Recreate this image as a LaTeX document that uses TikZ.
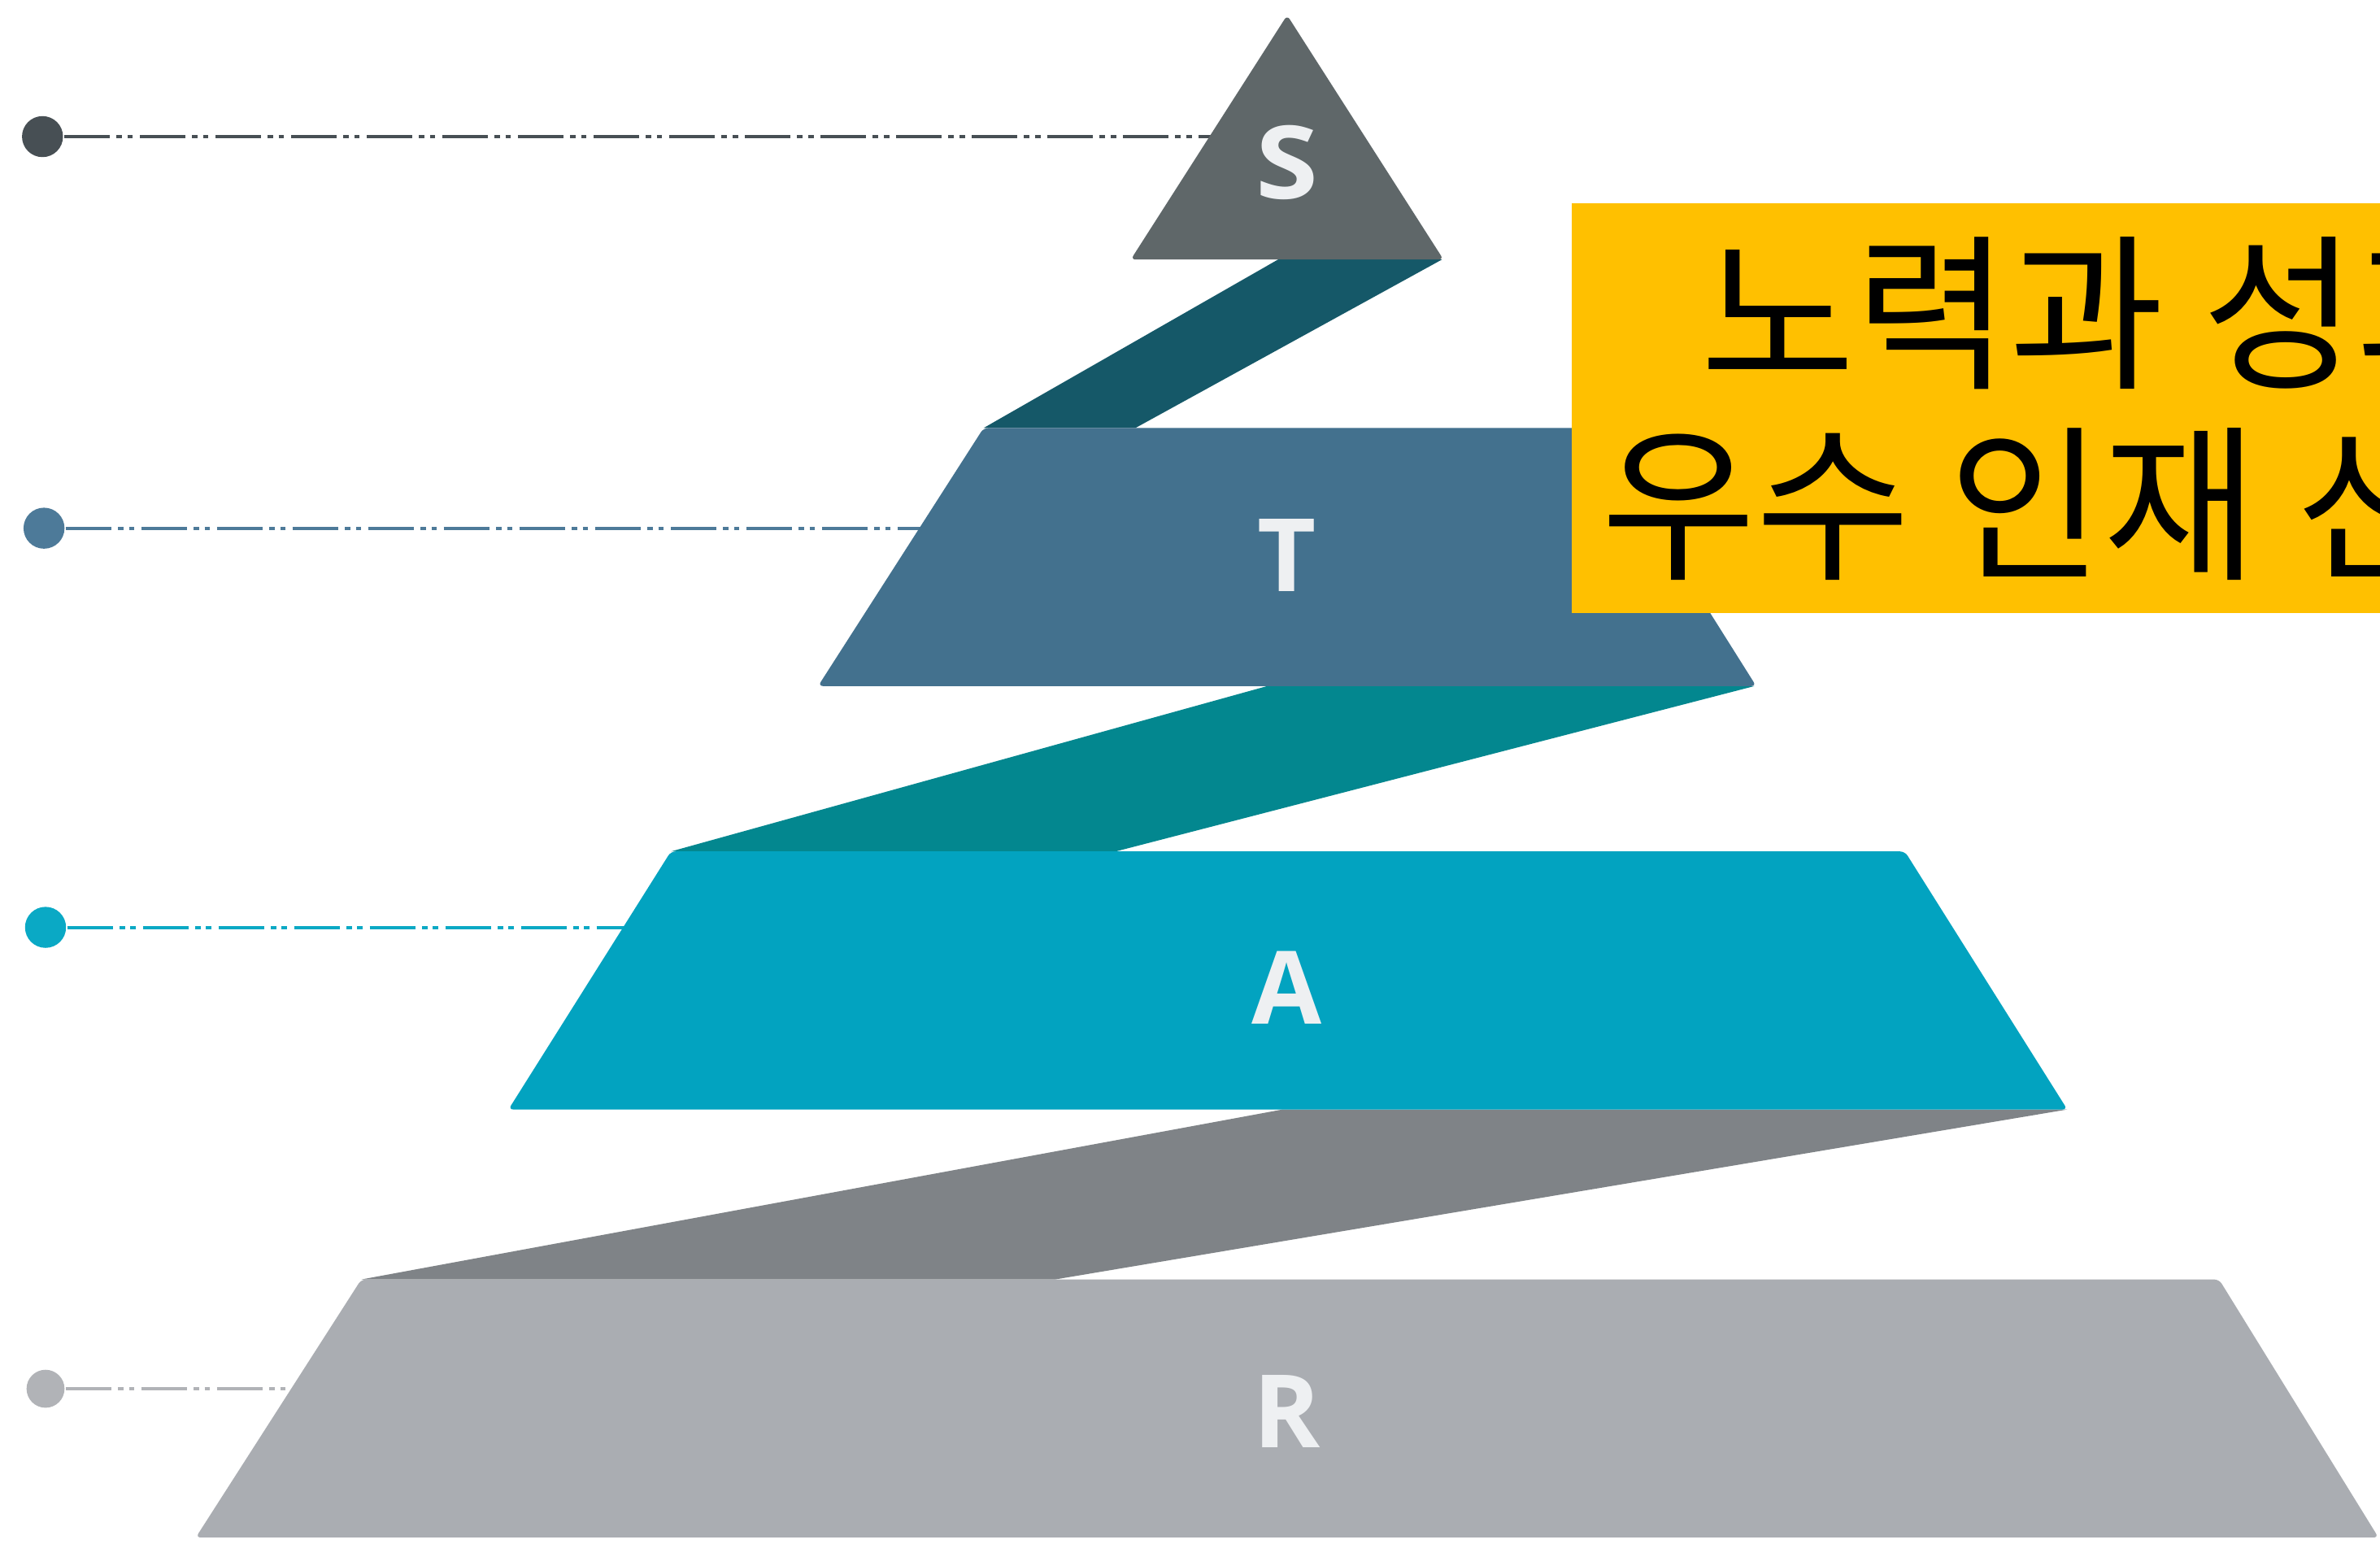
\documentclass[tikz,border=0pt]{standalone}
\usepackage{fontspec}
\newfontfamily\krfont{Noto Sans CJK KR}
\newfontfamily\lblfont{Open Sans}
\definecolor{cSdot}{HTML}{474F54}
\definecolor{cS}{HTML}{5F6769}
\definecolor{cSTband}{HTML}{155868}
\definecolor{cT}{HTML}{43718E}
\definecolor{cTdot}{HTML}{4D7A99}
\definecolor{cTAband}{HTML}{03878F}
\definecolor{cA}{HTML}{02A3C0}
\definecolor{cAdot}{HTML}{0AA9C5}
\definecolor{cARband}{HTML}{7F8387}
\definecolor{cR}{HTML}{AAADB2}
\definecolor{cRdot}{HTML}{B1B3B7}
\definecolor{ybox}{HTML}{FFC000}
\definecolor{lblwhite}{HTML}{EEF0F2}
\begin{document}
\begin{tikzpicture}[x=0.01cm,y=-0.01cm,
  dotn/.style={circle,inner sep=0pt,minimum size=0.27cm,fill=#1},
  leader/.style={draw=#1,line width=0.6pt,dash pattern=on 0.30cm off 0.045cm on 0.036cm off 0.036cm on 0.036cm off 0.045cm},
  tier/.style={fill=#1,rounded corners=0.9pt},
  lbl/.style={text=lblwhite,inner sep=0pt,font=\lblfont\bfseries\fontsize{19}{21}\selectfont},
  kr/.style={font=\krfont\fontsize{31.5}{36}\selectfont,anchor=base west,inner sep=0pt,text=black}]
\useasboundingbox (0,0) rectangle (1568,1017);
\clip (0,0) rectangle (1568,1017);
\fill[white] (0,0) rectangle (1568,1017);
% leader dots and lines
\node[dotn=cSdot] (dS) at (28,90) {};
\node[dotn=cTdot] (dT) at (29,348) {};
\node[dotn=cAdot] (dA) at (30,611) {};
\node[dotn=cRdot,minimum size=0.25cm] (dR) at (30,915) {};
\coordinate (eS) at (830,90);
\coordinate (eT) at (640,348);
\coordinate (eA) at (440,611);
\coordinate (eR) at (230,915);
\draw[leader=cSdot] (dS.east) -- (eS);
\draw[leader=cTdot] (dT.east) -- (eT);
\draw[leader=cAdot] (dA.east) -- (eA);
\draw[leader=cRdot] (dR.east) -- (eR);
% connecting bands
\fill[cSTband] (842,171) -- (950,171) -- (748,282) -- (648,282) -- cycle;
\fill[cTAband] (835,452) -- (1156,452) -- (735,561) -- (442,561) -- cycle;
\fill[cARband] (845,731) -- (1362,731) -- (695,843) -- (238,843) -- cycle;
% tiers
\fill[tier=cS] (848,10) -- (951,171) -- (745,171) -- cycle;
\fill[tier=cT] (648,282) -- (1050,282) -- (1157,452) -- (539,452) -- cycle;
\fill[tier=cA] (442,561) -- (1255,561) -- (1362,731) -- (335,731) -- cycle;
\fill[tier=cR] (238,843) -- (1462,843) -- (1567,1013) -- (129,1013) -- cycle;
% labels
\node[lbl,xscale=1.12,transform shape] (lS) at (848,107) {S};
\node[lbl] (lT) at (848,366) {T};
\node[lbl] (lA) at (848,651) {A};
\node[lbl] (lR) at (848,930) {R};
% yellow box
\node[fill=ybox,inner sep=0pt,minimum width=6cm,minimum height=2.70cm,anchor=north west] (box) at (1035,133) {};
\node[kr] (l1) at (1119.5,248) {노력과 성과에 따른};
\node[kr] (l2) at (1054.5,373.5) {우수 인재 선발 및 보상};
\end{tikzpicture}
\end{document}
